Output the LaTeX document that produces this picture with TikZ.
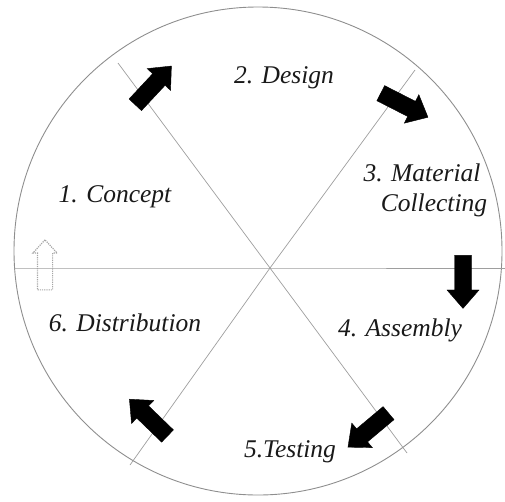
\documentclass[tikz,border=0pt]{standalone}
\usepackage{fontspec}
\setmainfont{Liberation Serif}
\usetikzlibrary{shapes.arrows}
\definecolor{lineg}{gray}{0.62}
\begin{document}
\begin{tikzpicture}[x=1pt,y=-1pt,
  divider/.style={draw=lineg, line width=0.7pt},
  rim/.style={draw=lineg!90!black, line width=0.9pt},
  blockarrow/.style={single arrow, fill=black, draw=black, line width=0.4pt,
    minimum height=53pt, single arrow head extend=7.5pt,
    single arrow tip angle=82, inner xsep=0pt, inner ysep=8.3pt},
  ghostarrow/.style={single arrow, draw=gray!70, densely dotted, line width=1.2pt,
    minimum height=50pt, single arrow head extend=4.5pt,
    single arrow tip angle=85, inner xsep=0pt, inner ysep=7pt},
  stage/.style={font=\itshape\fontsize{25.5}{28}\selectfont, text=black!90, inner sep=1pt}]
\useasboundingbox (0,0) rectangle (505,501);
% rim
\node[circle, rim, minimum size=488pt, inner sep=0pt] (rim) at (258,251) {};
% dividers
\coordinate (c) at (270,268);
\coordinate (aTL) at (118,63);
\coordinate (aBR) at (407,453);
\coordinate (bTR) at (415,70);
\coordinate (bBL) at (130,465);
\coordinate (hL) at (14,268);
\coordinate (hR) at (505,268);
\draw[divider] (aTL) -- (c) -- (aBR);
\draw[divider] (bTR) -- (c) -- (bBL);
\draw[divider] (hL) -- (c) -- (hR);
% arrows
\node[blockarrow, rotate=47] (ar1) at (150,89) {};
\node[blockarrow, rotate=-27] (ar2) at (400,103) {};
\node[blockarrow, rotate=-90] (ar3) at (463,277) {};
\node[blockarrow, rotate=-140] (ar4) at (372,427) {};
\node[blockarrow, rotate=136] (ar5) at (152,421) {};
\node[ghostarrow, rotate=90] (ar6) at (45,269) {};
% labels
\node[stage] (s1) at (115,197) {1. Concept};
\node[stage] (s2) at (284,78) {2. Design};
\node[stage] (s3a) at (422,173) {3. Material};
\node[stage] (s3b) at (434,205) {Collecting};
\node[stage] (s4) at (400,330) {4. Assembly};
\node[stage] (s5) at (290,452) {5.Testing};
\node[stage] (s6) at (125,323) {6. Distribution};
\end{tikzpicture}
\end{document}
